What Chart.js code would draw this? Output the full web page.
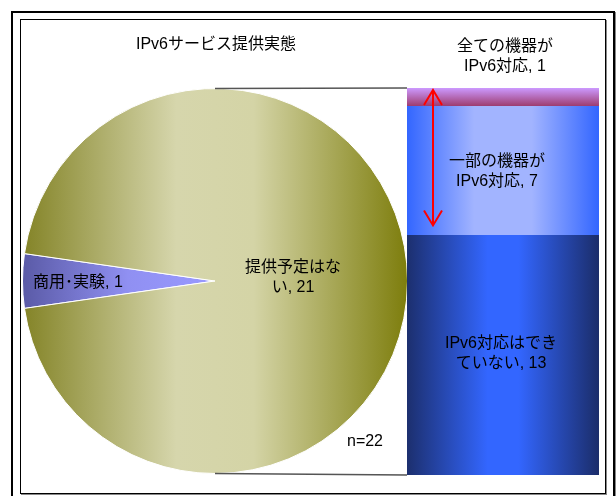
<!DOCTYPE html>
<html lang="ja">
<head>
<meta charset="UTF-8">
<title>IPv6サービス提供実態</title>
<script src="https://cdn.jsdelivr.net/npm/chart.js"></script>
<style>
    body { margin: 0; background: #fff; }
    #wrap { position: relative; width: 616px; height: 496px; overflow: hidden; }
    #wrap canvas { position: absolute; left: 0; top: 0; }
    /* 이중 테두리 */
    #outer { position: absolute; left: 11px; top: 11px; width: 600px; height: 500px; border: 2px solid #000; box-shadow: 1px 1px 0 #888; }
    #inner { position: absolute; left: 20px; top: 19px; width: 584px; height: 473px; border: 1px solid #000; box-shadow: 1px 1px 0 #888; }
</style>
</head>
<body>
<div id="wrap">
    <div id="outer"></div>
    <div id="inner"></div>
    <canvas id="pieChart" width="616" height="496"></canvas>
    <canvas id="barChart" width="616" height="496"></canvas>
</div>

<script>
    // 데이터
    const chartTitle = 'IPv6サービス提供実態';
    const pieLabels = ['商用･実験', '提供予定はな\nい'];
    const pieValues = [1, 21];
    const barCategories = ['提供予定はない'];
    const barLabels = ['IPv6対応はでき\nていない', '一部の機器が\nIPv6対応', '全ての機器が\nIPv6対応'];
    const barValues = [13, 7, 1];
    const sampleN = 22;

    const FONT = '16px "Liberation Sans", "Noto Sans CJK JP", sans-serif';

    // 여러 줄 텍스트
    function drawLines(ctx, text, x, y, align) {
        const lines = text.split('\n');
        const lh = 20;
        ctx.save();
        ctx.font = FONT;
        ctx.fillStyle = '#000';
        ctx.textAlign = align || 'center';
        ctx.textBaseline = 'middle';
        lines.forEach((l, i) => ctx.fillText(l, x, y + (i - (lines.length - 1) / 2) * lh));
        ctx.restore();
    }

    function hGrad(ctx, x0, x1, stops) {
        const g = ctx.createLinearGradient(x0, 0, x1, 0);
        stops.forEach(s => g.addColorStop(s[0], s[1]));
        return g;
    }

    // 원그래프 색
    function pieColor(context) {
        const { ctx, chartArea } = context.chart;
        if (!chartArea) return '#c0c080';
        if (context.dataIndex === 0) {
            const cx = (chartArea.left + chartArea.right) / 2;
            return hGrad(ctx, chartArea.left, cx, [[0, '#5a5aa6'], [0.55, '#9090f2'], [1, '#9999ff']]);
        }
        return hGrad(ctx, chartArea.left, chartArea.right,
            [[0, '#838326'], [0.4, '#d6d6ac'], [0.6, '#d4d4a6'], [1, '#7d7d0c']]);
    }

    const pieText = {
        id: 'pieText',
        afterDraw(chart) {
            const ctx = chart.ctx;
            const arc = chart.getDatasetMeta(0).data[0];
            const cx = arc.x, cy = arc.y;
            drawLines(ctx, chartTitle, cx + 1, 45);
            drawLines(ctx, pieLabels[0] + ', ' + pieValues[0], cx - 137, cy + 2);
            drawLines(ctx, pieLabels[1] + ', ' + pieValues[1], cx + 78, cy - 3);
            drawLines(ctx, 'n=' + sampleN, cx + 150, cy + 161);
        }
    };

    const pieChart = new Chart(document.getElementById('pieChart'), {
        type: 'pie',
        data: {
            labels: pieLabels,
            datasets: [{
                data: pieValues,
                backgroundColor: pieColor,
                borderColor: '#ffffff',
                borderWidth: 1,
            }],
        },
        options: {
            responsive: false,
            animation: false,
            rotation: 270 - 360 * pieValues[0] / (pieValues[0] + pieValues[1]) / 2,
            layout: { padding: { left: 22, top: 88, right: 208, bottom: 22 } },
            plugins: { legend: { display: false }, tooltip: { enabled: false } },
        },
        plugins: [pieText],
    });

    // 막대 색
    const barTotal = barValues.reduce((a, b) => a + b, 0);
    const barStops = [
        [[0, '#1c2f6e'], [0.42, '#3366ff'], [0.58, '#3366ff'], [1, '#1b2d6a']],
        [[0, '#3366ff'], [0.35, '#a2b4ff'], [0.65, '#a2b4ff'], [1, '#3366ff']],
    ];
    function barColor(context) {
        const chart = context.chart;
        const { ctx, chartArea } = chart;
        if (!chartArea) return '#3366ff';
        const i = context.datasetIndex;
        if (i < 2) return hGrad(ctx, chartArea.left, chartArea.right, barStops[i]);
        const y = chart.scales.y;
        const top = y.getPixelForValue(barTotal);
        const bottom = y.getPixelForValue(barTotal - barValues[2]);
        const g = ctx.createLinearGradient(0, top, 0, bottom);
        g.addColorStop(0, '#cc99ff');
        g.addColorStop(1, '#9c3a6c');
        return g;
    }

    const barExtras = {
        id: 'barExtras',
        afterDatasetsDraw(chart) {
            const ctx = chart.ctx;
            const segs = chart.data.datasets.map((d, i) => chart.getDatasetMeta(i).data[0]);
            const left = segs[0].x - segs[0].width / 2;
            const top = segs[2].y;
            const bottom = segs[0].base;

            // 원그래프와 막대 연결선
            const arc = pieChart.getDatasetMeta(0).data[0];
            ctx.save();
            ctx.strokeStyle = '#555';
            ctx.lineWidth = 1.5;
            ctx.beginPath();
            ctx.moveTo(arc.x, arc.y - arc.outerRadius);
            ctx.lineTo(left, top);
            ctx.moveTo(arc.x, arc.y + arc.outerRadius);
            ctx.lineTo(left, bottom);
            ctx.stroke();

            // 빨간 양방향 화살표
            const ax = left + 26, ay0 = top + 2, ay1 = segs[1].base - 10;
            ctx.strokeStyle = '#ff0000';
            ctx.lineWidth = 2;
            ctx.beginPath();
            ctx.moveTo(ax, ay0); ctx.lineTo(ax, ay1);
            ctx.moveTo(ax - 9, ay0 + 15); ctx.lineTo(ax, ay0); ctx.lineTo(ax + 9, ay0 + 15);
            ctx.moveTo(ax - 9, ay1 - 15); ctx.lineTo(ax, ay1); ctx.lineTo(ax + 9, ay1 - 15);
            ctx.stroke();
            ctx.restore();

            // 라벨
            const t = (i) => barLabels[i] + ', ' + barValues[i];
            drawLines(ctx, t(0), segs[0].x - 2, (segs[0].y + segs[0].base) / 2 - 2);
            drawLines(ctx, t(1), segs[1].x - 6, (segs[1].y + segs[1].base) / 2 + 1);
            drawLines(ctx, t(2), segs[2].x + 2, segs[2].y - 31);
        }
    };

    const barChart = new Chart(document.getElementById('barChart'), {
        type: 'bar',
        data: {
            labels: barCategories,
            datasets: barValues.map((v, i) => ({
                label: barLabels[i],
                data: [v],
                backgroundColor: barColor,
                borderWidth: 0,
                barPercentage: 1,
                categoryPercentage: 1,
            })),
        },
        options: {
            responsive: false,
            animation: false,
            layout: { padding: { left: 407, right: 17, top: 88, bottom: 21 } },
            scales: {
                x: { stacked: true, display: false },
                y: { stacked: true, display: false, min: 0, max: barTotal },
            },
            plugins: { legend: { display: false }, tooltip: { enabled: false } },
        },
        plugins: [barExtras],
    });
</script>
</body>
</html>
